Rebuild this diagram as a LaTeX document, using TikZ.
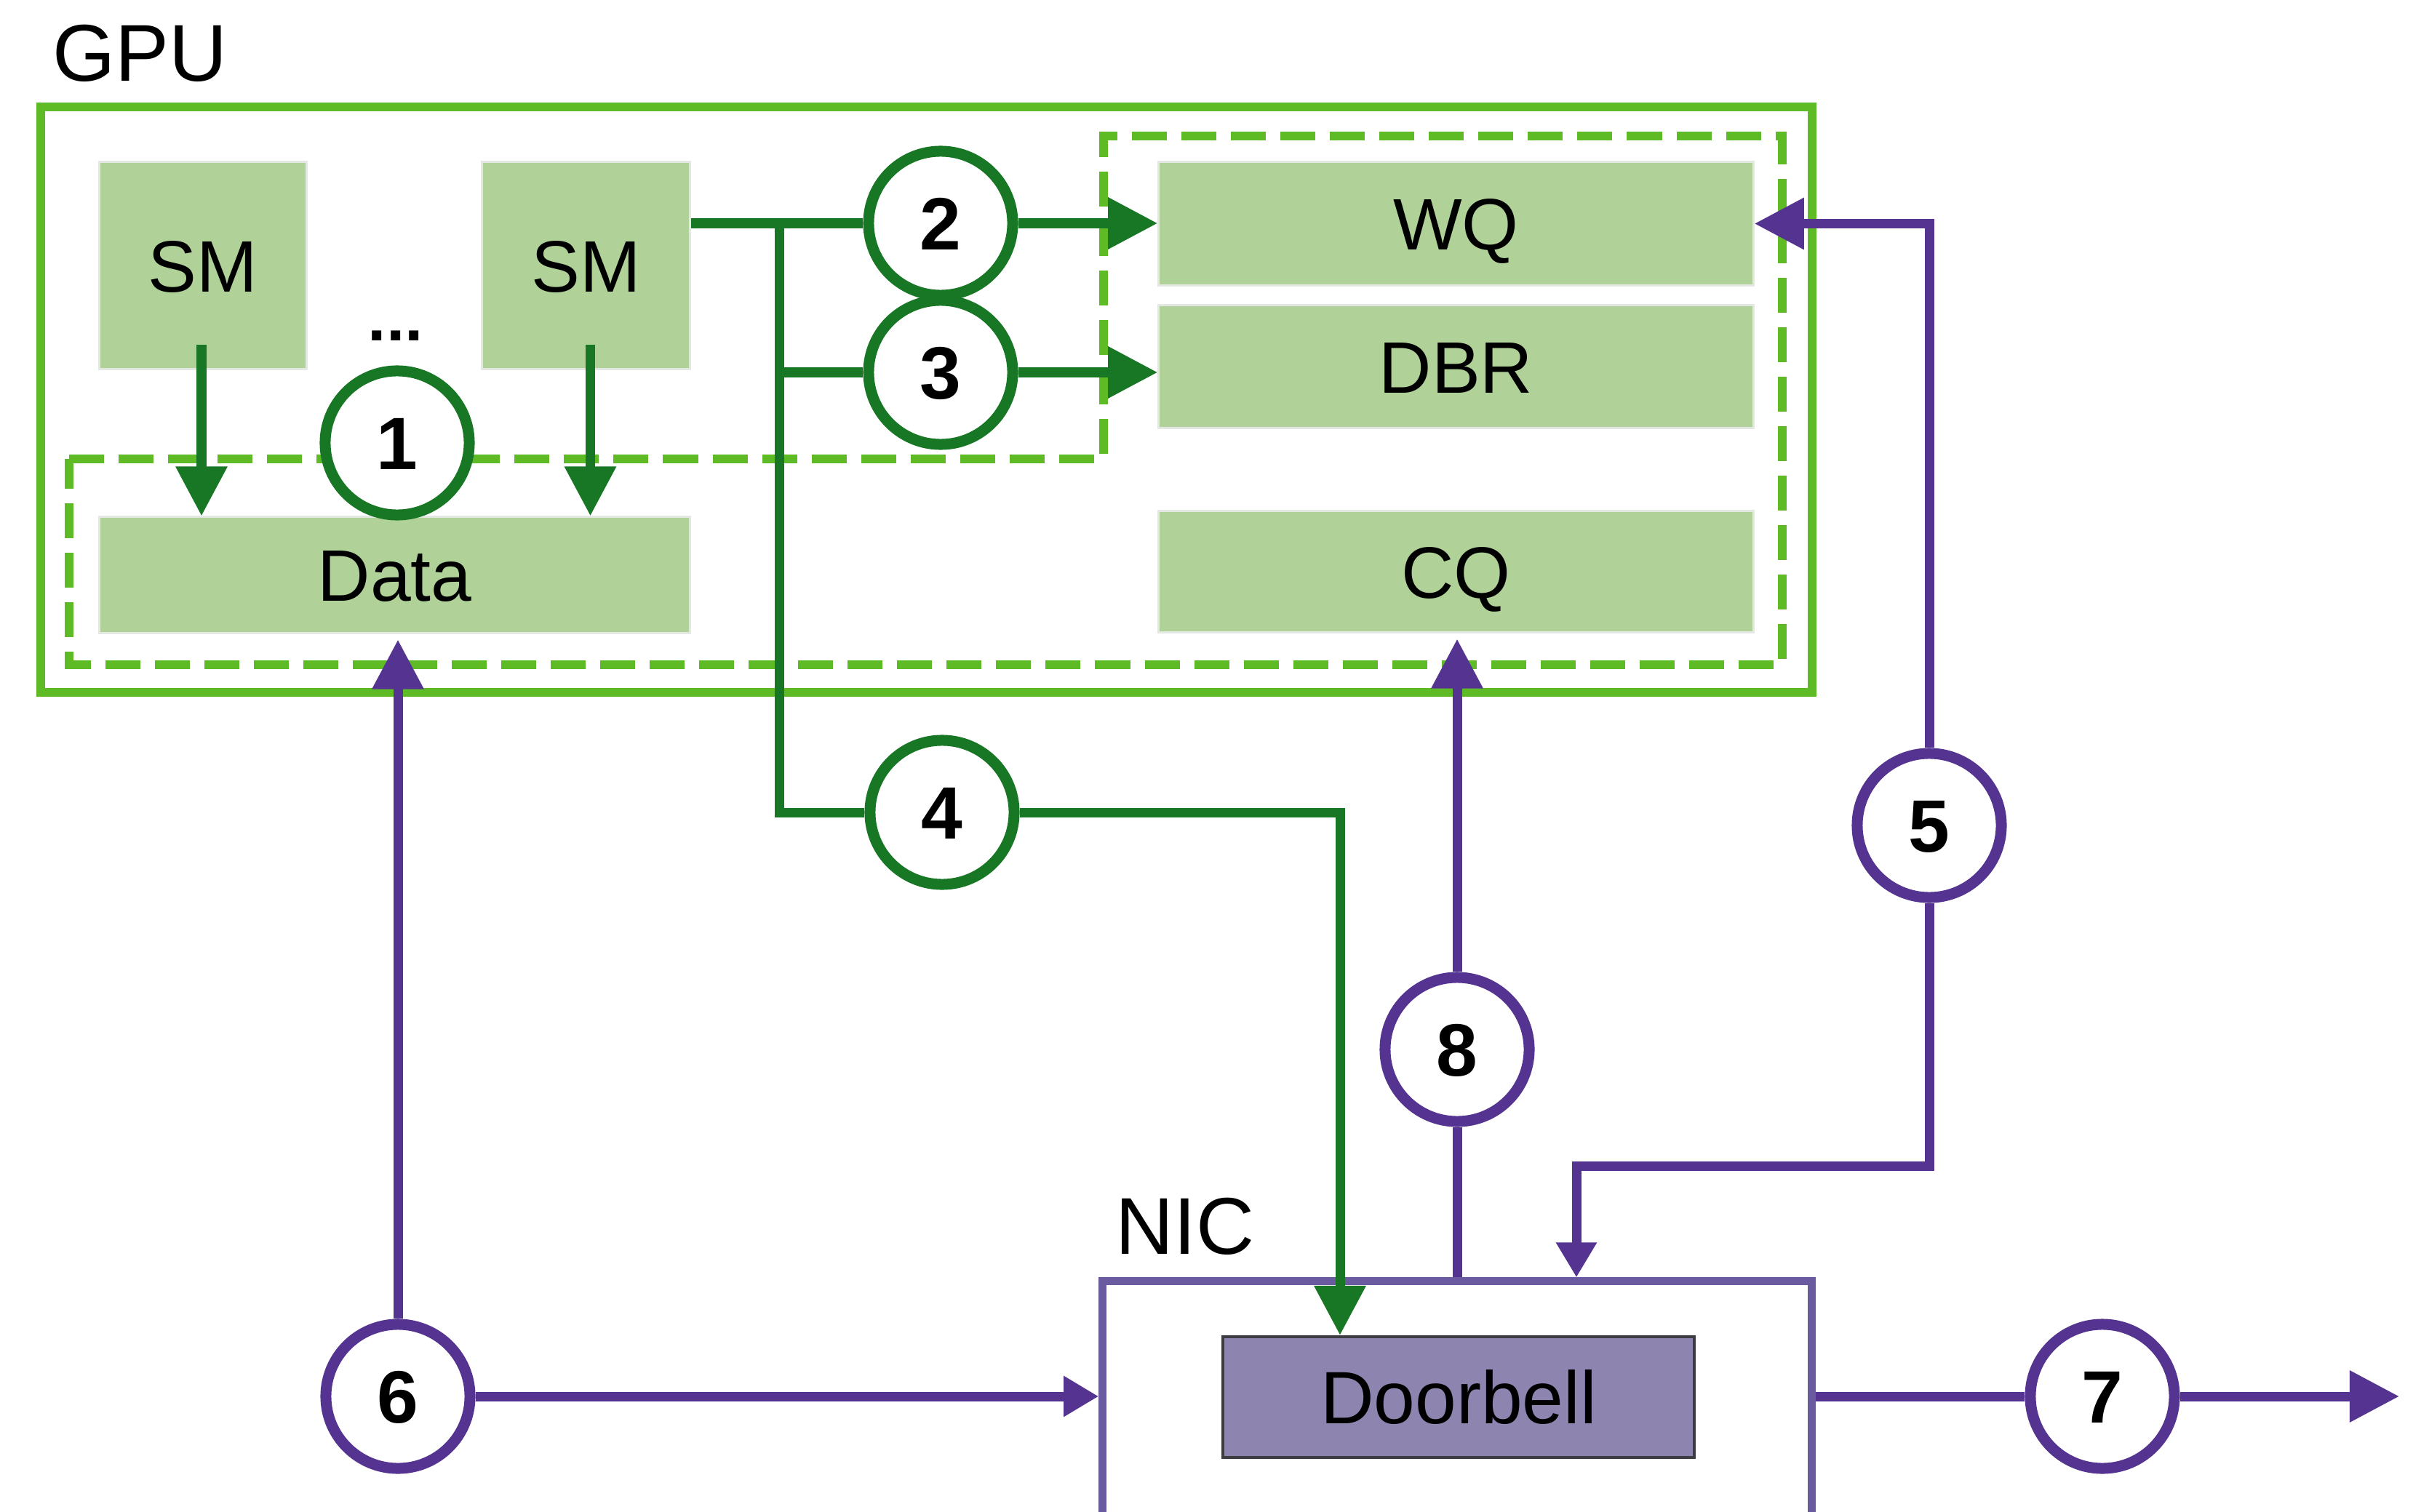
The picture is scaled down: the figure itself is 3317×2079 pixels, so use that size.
\documentclass[tikz,border=0pt]{standalone}
\usepackage{fontspec}
\setmainfont{Liberation Sans}
\usetikzlibrary{arrows.meta,calc}
\definecolor{gpugreen}{RGB}{94,187,38}
\definecolor{dkgreen}{RGB}{24,119,36}
\definecolor{ltgreen}{RGB}{176,209,151}
\definecolor{ltedge}{RGB}{228,232,226}
\definecolor{purp}{RGB}{85,52,145}
\definecolor{nicpurp}{RGB}{106,90,160}
\definecolor{dbfill}{RGB}{141,132,175}
\definecolor{dbedge}{RGB}{60,60,66}
\begin{document}
\begin{tikzpicture}[x=0.01cm,y=-0.01cm,
  qbox/.style={fill=ltgreen, draw=ltedge, line width=0.03cm, inner sep=0pt,
    font=\fontsize{28.5}{30}\selectfont, text height=0.72cm, text depth=0cm},
  num/.style={circle, fill=white, line width=0.15cm, minimum size=1.98cm, inner sep=0pt,
    font=\fontsize{29}{30}\selectfont\bfseries, text height=0.73cm, text depth=0cm},
  gnum/.style={num, draw=dkgreen},
  pnum/.style={num, draw=purp},
  gline/.style={draw=dkgreen, line width=0.13cm},
  garrow/.style={gline, -{Triangle[length=0.68cm,width=0.68cm]}},
  pline/.style={draw=purp, line width=0.13cm},
  parrow/.style={pline, -{Triangle[length=0.68cm,width=0.68cm]}},
  psmall/.style={pline, -{Triangle[length=0.48cm,width=0.53cm]}},
  lbl/.style={anchor=base west, inner sep=0pt, font=\fontsize{31.5}{33}\selectfont}
]
\useasboundingbox (0,0) rectangle (3317,2079);
\clip (0,0) rectangle (3317,2079);

% GPU container
\node[lbl] (gpul) at (72,112) {GPU};
\node[draw=gpugreen, line width=0.12cm, minimum width=24.33cm, minimum height=8.05cm, inner sep=0pt] (gpu) at (1273.5,549.5) {};
\draw[gpugreen, line width=0.12cm, dash pattern=on 0.48cm off 0.2cm]
  (95,631) -- (1517,631) -- (1517,187) -- (2450,187) -- (2450,914) -- (95,914) -- cycle;

% boxes
\node[qbox, minimum width=2.84cm, minimum height=2.84cm] (sm1) at (279,365) {SM};
\node[qbox, minimum width=2.85cm, minimum height=2.84cm] (sm2) at (805.5,365) {SM};
\node[qbox, minimum width=8.11cm, minimum height=1.59cm] (data) at (542.5,790.5) {Data};
\node[qbox, minimum width=8.17cm, minimum height=1.69cm] (wq) at (2001.5,307.5) {WQ};
\node[qbox, minimum width=8.17cm, minimum height=1.68cm] (dbr) at (2001.5,504) {DBR};
\node[qbox, minimum width=8.17cm, minimum height=1.66cm] (cq) at (2001.5,786) {CQ};
\node[anchor=base, inner sep=0pt, font=\fontsize{26}{28}\selectfont\bfseries] (dots) at (544,469) {...};

% NIC
\node[lbl] (nicl) at (1533,1724) {NIC};
\node[draw=nicpurp, line width=0.11cm, minimum width=9.74cm, minimum height=4cm, inner sep=0pt] (nic) at (2003,1962) {};
\node[fill=dbfill, draw=dbedge, line width=0.04cm, minimum width=6.48cm, minimum height=1.66cm, inner sep=0pt,
  font=\fontsize{29}{30}\selectfont, text height=0.72cm, text depth=0cm] (db) at (2005,1921) {Doorbell};

% step circles
\node[gnum] (c1) at (546,609) {1};
\node[gnum] (c2) at (1293,307) {2};
\node[gnum] (c3) at (1293,512) {3};
\node[gnum] (c4) at (1295,1117) {4};
\node[pnum] (c5) at (2652,1135) {5};
\node[pnum] (c6) at (547,1920) {6};
\node[pnum] (c7) at (2890,1920) {7};
\node[pnum] (c8) at (2003,1443) {8};

% green connectors
\coordinate (s1) at ($(sm1.south)+(-2,-35)$);
\coordinate (s2) at ($(sm2.south)+(6,-35)$);
\draw[garrow] (s1) -- (s1 |- data.north);
\draw[garrow] (s2) -- (s2 |- data.north);
\coordinate (j) at ($(c2)+(-222,0)$);
\draw[gline] (sm2.east |- c2) -- (c2.west);
\draw[garrow] (c2.east) -- (wq.west |- c2);
\draw[gline] (j) -- (j |- c4) -- (c4.west);
\draw[gline] (j |- c3) -- (c3.west);
\draw[garrow] (c3.east) -- (dbr.west |- c3);
\coordinate (k4) at ($(c4)+(547,0)$);
\draw[garrow] (c4.east) -- (k4) -- (k4 |- db.north);

% purple connectors
\coordinate (k5a) at (c5 |- wq.east);
\coordinate (k5b) at ($(c5)+(0,468)$);
\coordinate (k5c) at ($(k5b)+(-485,0)$);
\draw[parrow] (c5.north) -- (k5a) -- (wq.east);
\draw[psmall] (c5.south) -- (k5b) -- (k5c) -- (k5c |- nic.north);
\draw[parrow] (c6.north) -- ($(c6 |- data.south)+(0,8)$);
\draw[psmall] (c6.east) -- (nic.west |- c6);
\coordinate (o7) at ($(c7)+(408,0)$);
\draw[pline] (nic.east |- c7) -- (c7.west);
\draw[parrow] (c7.east) -- (o7);
\draw[pline] (c8 |- nic.north) -- (c8.south);
\draw[parrow] (c8.north) -- ($(c8 |- cq.south)+(0,8)$);
\end{tikzpicture}
\end{document}
